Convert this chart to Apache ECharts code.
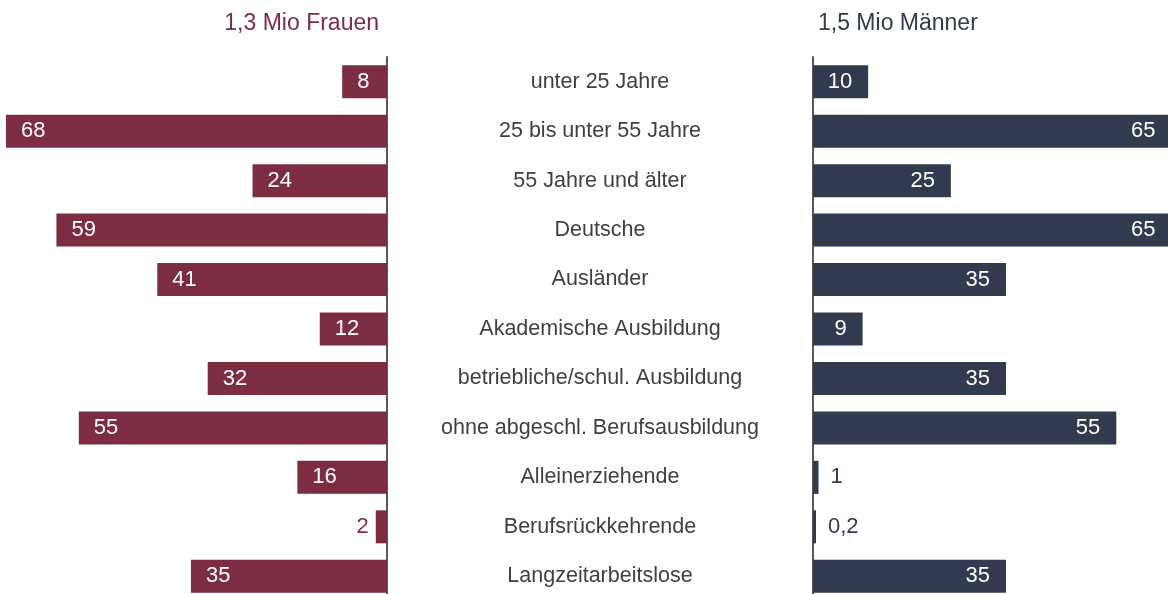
<!DOCTYPE html>
<html>
<head>
<meta charset="utf-8">
<script src="https://cdn.jsdelivr.net/npm/echarts@6/dist/echarts.min.js"></script>
<style>
  html, body { margin: 0; padding: 0; background: #fff; }
  #chart { width: 1168px; height: 594px; }
</style>
</head>
<body>
<div id="chart"></div>
<script>
// Gruppen (von oben nach unten)
const categories = [
  'unter 25 Jahre',
  '25 bis unter 55 Jahre',
  '55 Jahre und älter',
  'Deutsche',
  'Ausländer',
  'Akademische Ausbildung',
  'betriebliche/schul. Ausbildung',
  'ohne abgeschl. Berufsausbildung',
  'Alleinerziehende',
  'Berufsrückkehrende',
  'Langzeitarbeitslose'
]
const frauen = [8, 68, 24, 59, 41, 12, 32, 55, 16, 2, 35]
const maenner = [10, 65, 25, 65, 35, 9, 35, 55, 1, 0.2, 35]
const titleFrauen = '1,3 Mio Frauen'
const titleMaenner = '1,5 Mio Männer'

const RED = '#7d2d41'
const NAVY = '#323a4f'
const FONT = "'Liberation Sans', Arial, sans-serif"

const fmt = p => String(p.value).replace('.', ',')

// kleine Werte passen nicht in den Balken -> Beschriftung daneben
function toItems(values, outsidePos, color, dist) {
  return values.map(v => {
    if (v < 5) {
      return { value: v, label: { position: outsidePos, color: color, distance: dist } }
    }
    return v
  })
}

const chart = echarts.init(document.getElementById('chart'))

chart.setOption({
  animation: false,
  title: [
    {
      text: titleFrauen,
      right: 784,
      top: 7,
      textStyle: { color: RED, fontSize: 23, fontWeight: 'normal', fontFamily: FONT }
    },
    {
      text: titleMaenner,
      left: 813,
      top: 7,
      textStyle: { color: NAVY, fontSize: 23, fontWeight: 'normal', fontFamily: FONT }
    }
  ],
  grid: [
    { left: 6, top: 57, width: 381, height: 544, outerBoundsMode: 'none' },
    { left: 813, top: 57, width: 375, height: 544, outerBoundsMode: 'none' }
  ],
  xAxis: [
    { gridIndex: 0, type: 'value', min: 0, max: 68, inverse: true, show: false },
    { gridIndex: 1, type: 'value', min: 0, max: 68, show: false }
  ],
  yAxis: [
    {
      gridIndex: 0,
      type: 'category',
      data: categories,
      inverse: true,
      position: 'right',
      axisLine: { show: true, lineStyle: { color: '#595959', width: 2 } },
      axisTick: { show: false },
      axisLabel: {
        align: 'center',
        margin: 213,
        color: '#404040',
        fontSize: 21.5,
        fontFamily: FONT
      }
    },
    {
      gridIndex: 1,
      type: 'category',
      data: categories,
      inverse: true,
      position: 'left',
      axisLine: { show: true, lineStyle: { color: '#595959', width: 2 } },
      axisTick: { show: false },
      axisLabel: { show: false }
    }
  ],
  series: [
    {
      name: 'Frauen',
      type: 'bar',
      xAxisIndex: 0,
      yAxisIndex: 0,
      barWidth: 33,
      itemStyle: { color: RED },
      label: {
        show: true,
        position: 'insideLeft',
        distance: 15,
        color: '#fff',
        fontSize: 22,
        fontFamily: FONT,
        formatter: fmt
      },
      data: toItems(frauen, 'left', RED, 7)
    },
    {
      name: 'Männer',
      type: 'bar',
      xAxisIndex: 1,
      yAxisIndex: 1,
      barWidth: 33,
      barMinHeight: 3,
      itemStyle: { color: NAVY },
      label: {
        show: true,
        position: 'insideRight',
        distance: 16,
        color: '#fff',
        fontSize: 22,
        fontFamily: FONT,
        formatter: fmt
      },
      data: toItems(maenner, 'right', NAVY, 12)
    }
  ]
})
</script>
</body>
</html>
